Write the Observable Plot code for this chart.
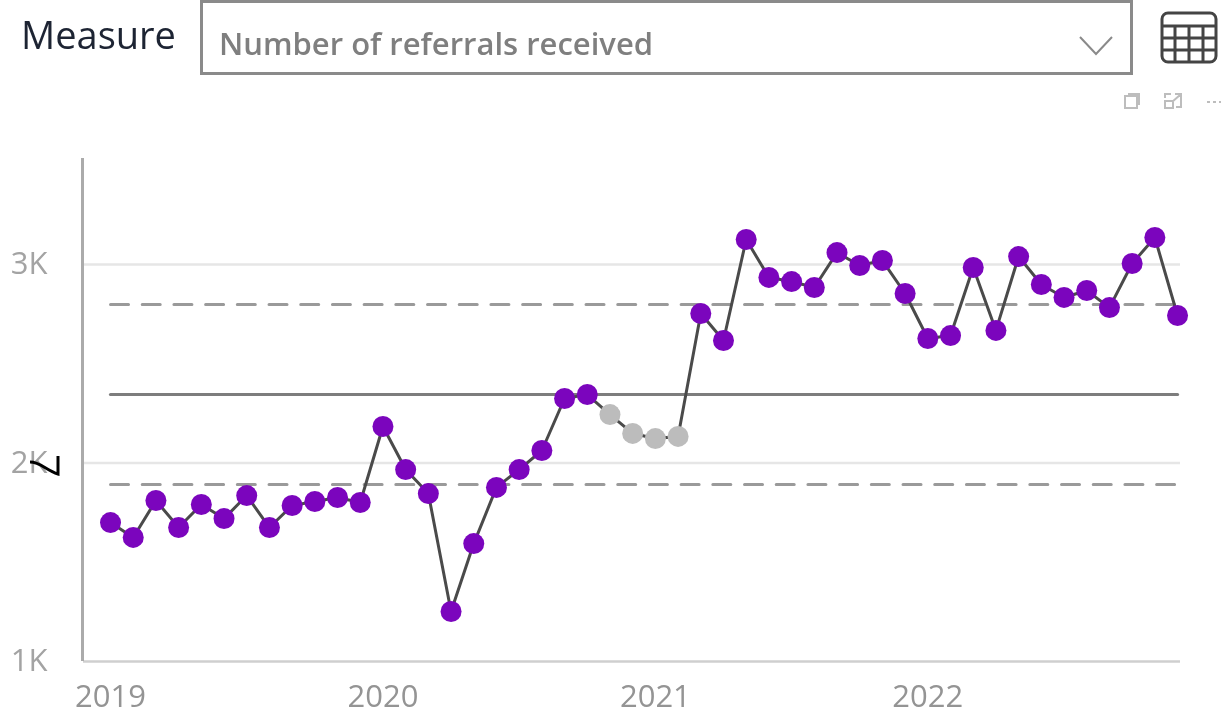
<!DOCTYPE html>
<html>
<head>
<meta charset="utf-8">
<script src="https://cdn.jsdelivr.net/npm/d3@7"></script>
<script src="https://cdn.jsdelivr.net/npm/@observablehq/plot@0.6"></script>
<style>
html,body{margin:0;padding:0;background:#fff;font-family:"Open Sans",sans-serif;overflow:hidden}
#wrap{filter:blur(0.5px)}
#head{position:relative;width:1229px;height:120px}
#measure{position:absolute;left:21px;top:9px;font-size:38px;line-height:50px;color:#1d2433}
#box{position:absolute;left:200px;top:0;width:927px;height:69px;border:3px solid #8a8a8a;background:#fff}
#val{position:absolute;left:219px;top:21px;font-size:31px;line-height:44px;font-weight:600;color:#7f7f7f}
#ico{position:absolute;left:0;top:0}
#chart{position:relative;width:1229px;height:601px}
#chart svg{display:block}
#scribble{position:absolute;left:0;top:0;pointer-events:none}
</style>
</head>
<body>
<div id="wrap">
<div id="head">
  <div id="measure">Measure</div>
  <div id="box"></div>
  <div id="val">Number of referrals received</div>
  <svg id="ico" width="1229" height="120" fill="none">
    <path d="M1080 37 L1096 54 L1112 37" stroke="#8a8a8a" stroke-width="2"/>
    <g stroke="#444" stroke-width="3">
      <rect x="1162" y="13" width="54" height="49" rx="6"/>
      <path d="M1162 26H1216M1162 38H1216M1162 50H1216M1175 26V62M1189 26V62M1203 26V62"/>
    </g>
    <g stroke="#bdbdbd" stroke-width="2">
      <path d="M1125 96H1137V108H1125Z M1128 94H1139V105"/>
      <path d="M1165 98V94H1171M1175 94H1181V107H1176M1165 101V108H1173V101Z M1172 102L1180 95"/>
      <path d="M1207 102H1221" stroke-dasharray="3 3"/>
    </g>
  </svg>
</div>
<div id="chart"></div>
</div>
<script>
const years = ["2019","2020","2021","2022"];
const yearTicks = [0,12,24,36];
const referrals = [
  1700,1625,1811,1675,1791,1720,1836,1675,1786,1806,1826,1801,
  2184,1967,1846,1252,1594,1877,1967,2063,2325,2345,2244,2149,
  2123,2134,2753,2617,3126,2935,2914,2884,3060,2995,3020,2854,
  2627,2642,2985,2668,3040,2899,2834,2869,2783,3005,3136,2743
];
const greyedMonths = [22,23,24,25];
const meanValue = 2345;
const upperLimit = 2798;
const lowerLimit = 1892;
const yTicks = [1000,2000,3000];
const gridTicks = [2000,3000];
const rows = referrals.map((v,i)=>({i, v, status: greyedMonths.includes(i) ? "grey" : "normal"}));
const xDomain = [-1.19, 47.13];
const yDomain = [1000, 3534];
const limitSpan = d3.extent(rows, d => d.i);
const hline = v => limitSpan.map(i => ({i, v}));

const chart = Plot.plot({
  width: 1229, height: 601,
  marginLeft: 83, marginRight: 49, marginTop: 38, marginBottom: 60,
  style: {background: "#fff", fontFamily: '"Open Sans",sans-serif'},
  x: {type: "linear", domain: xDomain},
  y: {domain: yDomain},
  color: {domain: ["normal","grey"], range: ["#7b05bd","#bcbcbc"]},
  marks: [
    Plot.ruleY(gridTicks, {stroke: "#e6e6e6", strokeWidth: 2.5}),
    Plot.ruleY([yDomain[0]], {stroke: "#cfcfcf", strokeWidth: 2.5}),
    Plot.ruleX([xDomain[0]], {stroke: "#ababab", strokeWidth: 3, dx: -1}),
    Plot.line(hline(upperLimit), {x:"i", y:"v", stroke:"#9a9a9a", strokeWidth:3, strokeDasharray:"18 13.7"}),
    Plot.line(hline(lowerLimit), {x:"i", y:"v", stroke:"#9a9a9a", strokeWidth:3, strokeDasharray:"18 13.7"}),
    Plot.line(hline(meanValue), {x:"i", y:"v", stroke:"#7d7d7d", strokeWidth:3.2}),
    Plot.line(rows, {x:"i", y:"v", stroke:"#4a4a4a", strokeWidth:3}),
    Plot.dot(rows, {x:"i", y:"v", r:10.5, fill:"status", stroke:"none"}),
    Plot.axisX({ticks: yearTicks, tickFormat: d => years[yearTicks.indexOf(d)], tickSize: 0, tickPadding: 23, fontSize: 31, color: "#949494", anchor: "bottom", label: null, textAnchor:"middle"}),
    Plot.axisY({ticks: yTicks, tickFormat: d => d/1000 + "K", tickSize: 0, tickPadding: 36, fontSize: 31, color: "#a3a3a3", anchor: "left", label: null})
  ]
});
document.getElementById("chart").appendChild(chart);
const ns = "http://www.w3.org/2000/svg";
const sc = document.createElementNS(ns,"svg");
sc.setAttribute("id","scribble"); sc.setAttribute("width","1229"); sc.setAttribute("height","601");
sc.innerHTML = '<path d="M30 342 C40 342 46 350 58 354 L58 336" fill="none" stroke="#000" stroke-width="3"/>';
document.getElementById("chart").appendChild(sc);
</script>
</body>
</html>
